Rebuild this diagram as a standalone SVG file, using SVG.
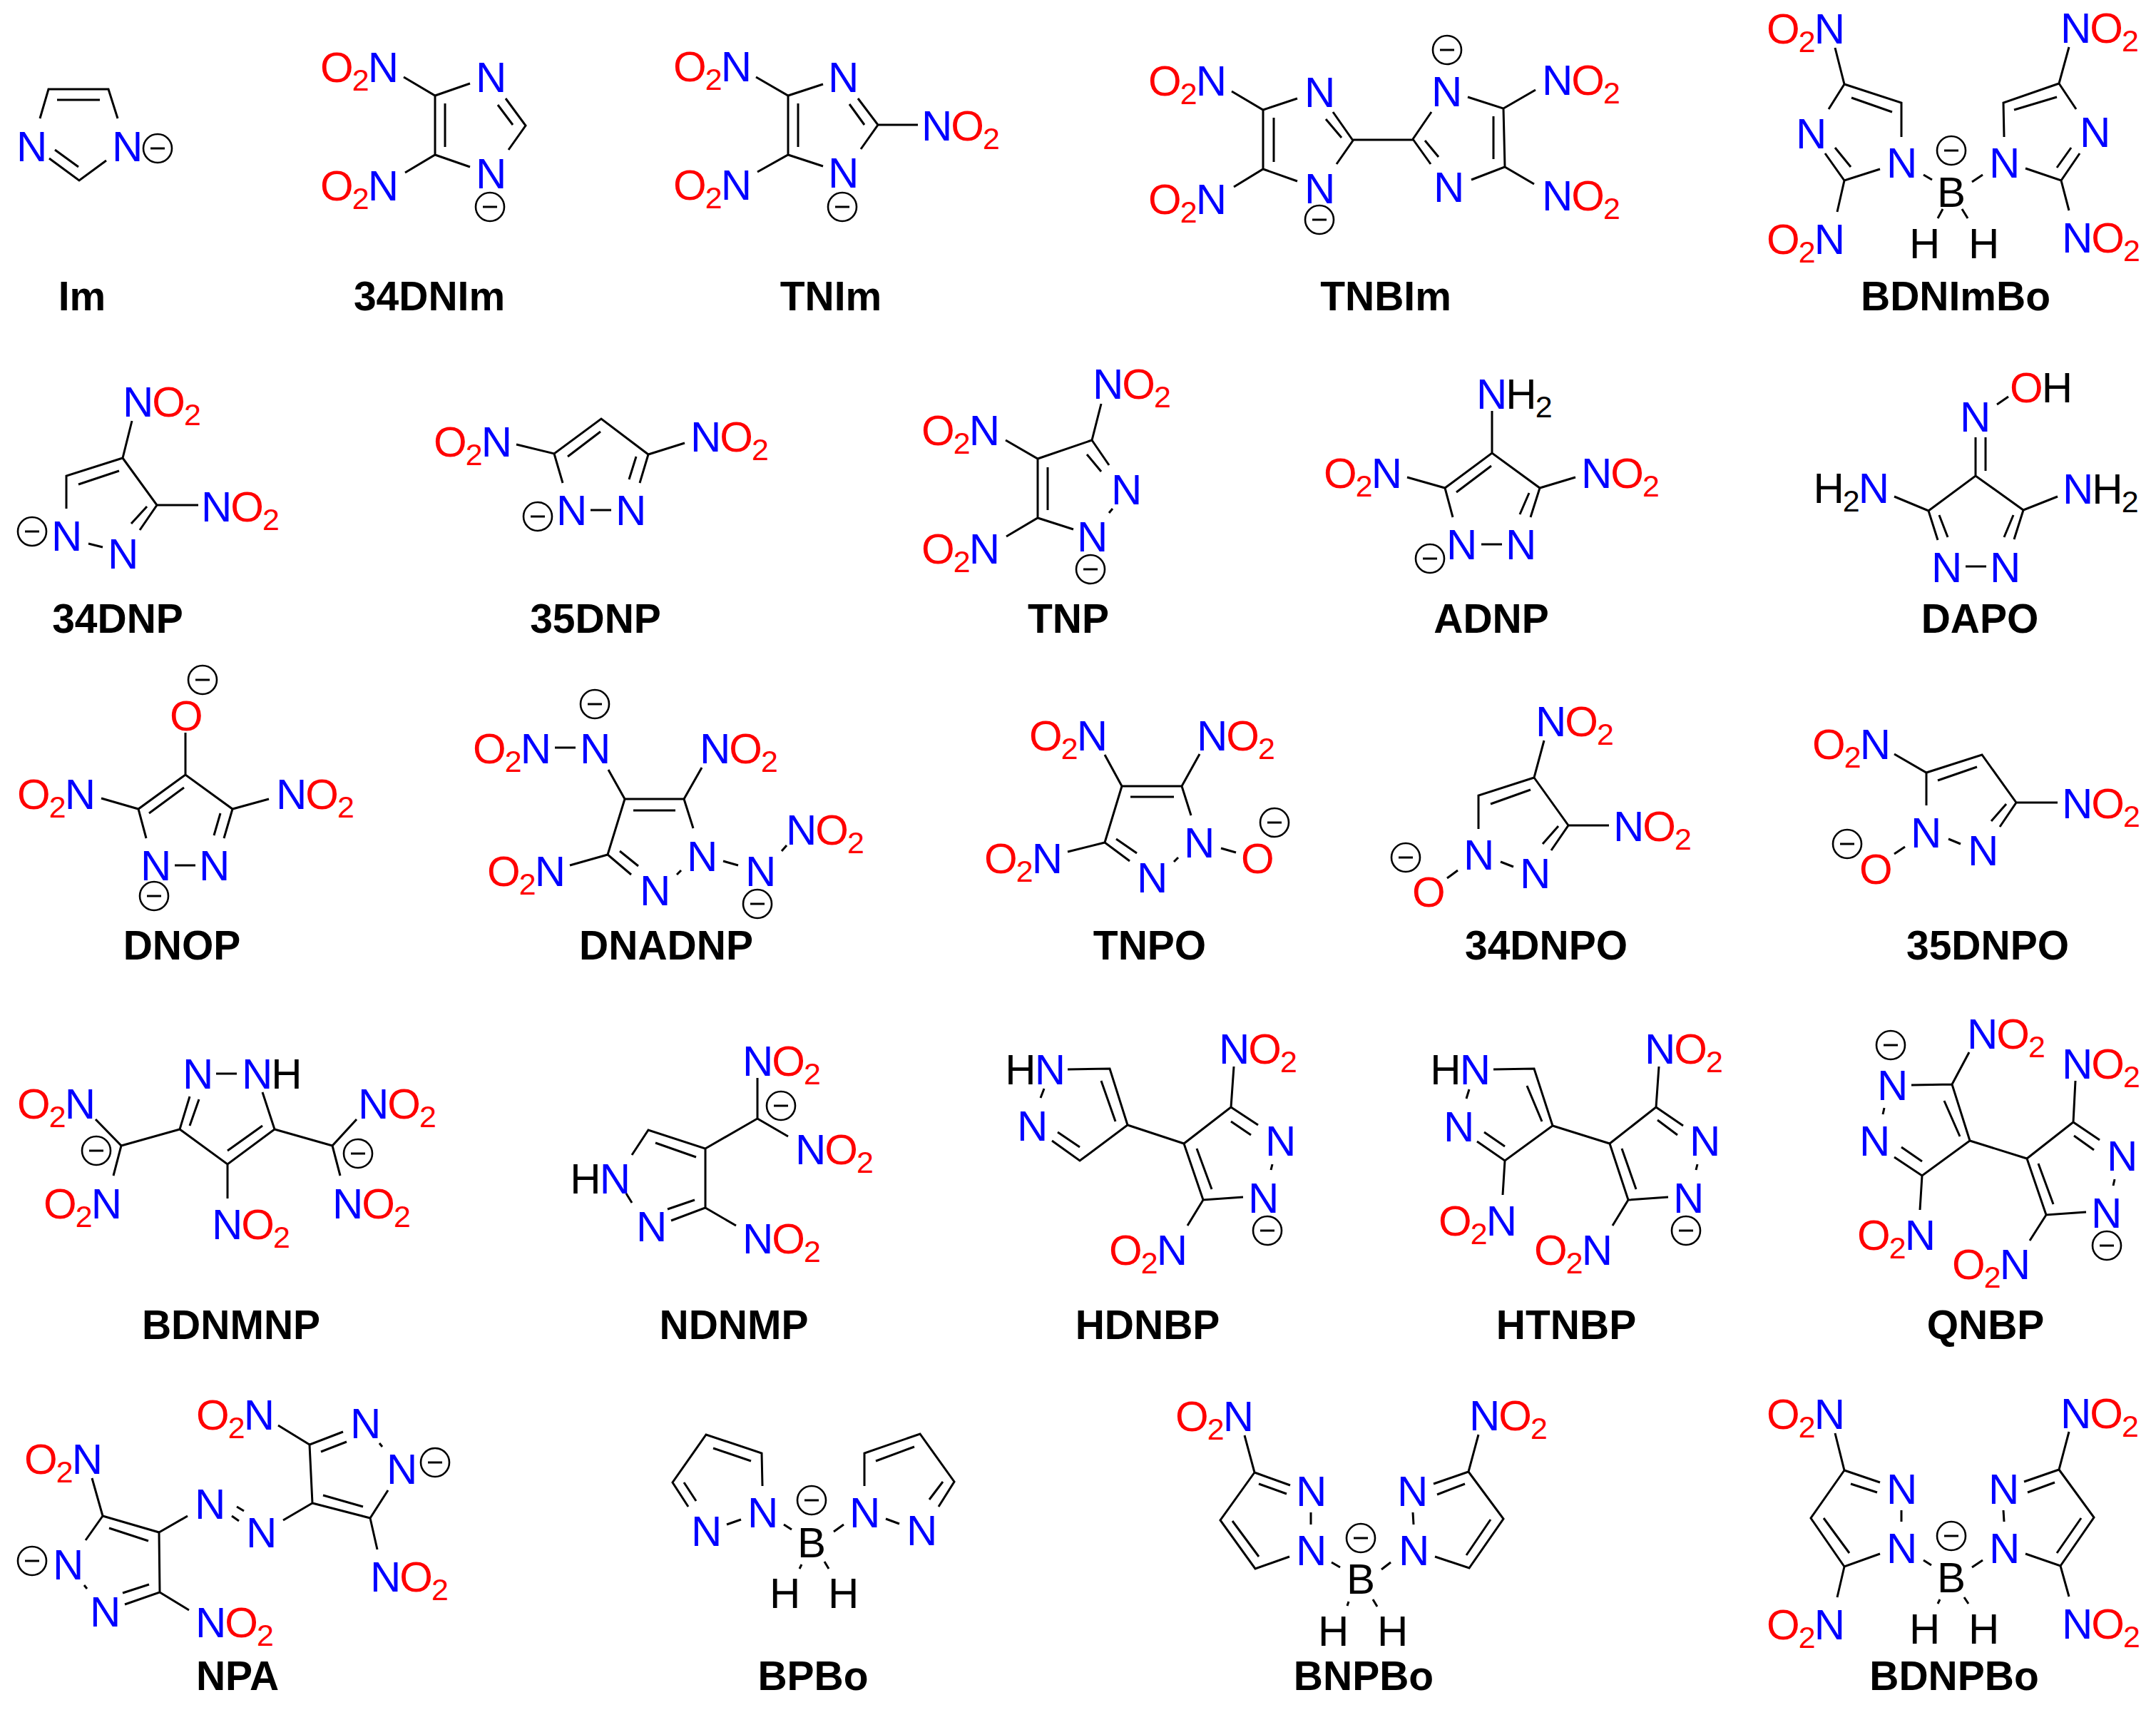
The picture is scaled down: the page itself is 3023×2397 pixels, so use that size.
<svg xmlns="http://www.w3.org/2000/svg" width="3023" height="2397" viewBox="0 0 3023 2397">
<style>
text{font-family:"Liberation Sans",Arial,sans-serif}
.t{font-size:60px;fill:#000;letter-spacing:-2px}
.e{text-anchor:end}
.b{fill:#0000ff}
.r{fill:#ff0000}
.s{font-size:43px}
.l{font-size:57px;font-weight:bold;text-anchor:middle;fill:#000}
.g{fill:none;stroke:#000;stroke-width:3;stroke-linecap:butt;stroke-linejoin:miter}
</style>
<defs>
<g id="m"><circle r="20" fill="none" stroke="#000" stroke-width="2.6"/><path d="M-10 0H10" stroke="#000" stroke-width="3"/></g>
</defs>
<rect width="3023" height="2397" fill="#fff"/>

<g id="Im">
<path class="g" d="M56 166L68 125H152L165 166M80 140H140M69 222L111 253L149 225M77 210L110 234"/>
<text class="t b" x="23" y="226">N</text><text class="t b" x="157" y="226">N</text>
<use href="#m" x="221" y="208"/>
<text class="l" x="115" y="435">Im</text>
</g>

<g id="DNIm34">
<path class="g" d="M566 108L610 134L659 117M568 242L610 217L659 234M610 134V217M624 145V206M709 138L737 176L713 210M698 147L719 175"/>
<text class="t e" x="557" y="115"><tspan class="r">O</tspan><tspan class="r s" dy="12">2</tspan><tspan class="b" dy="-12">N</tspan></text>
<text class="t e" x="557" y="281"><tspan class="r">O</tspan><tspan class="r s" dy="12">2</tspan><tspan class="b" dy="-12">N</tspan></text>
<text class="t b" x="667" y="129">N</text><text class="t b" x="667" y="264">N</text>
<use href="#m" x="687" y="290"/>
<text class="l" x="602" y="435">34DNIm</text>
</g>

<g id="TNIm">
<path class="g" d="M1060 108L1105 134L1154 118M1062 241L1105 217L1154 233M1105 134V217M1119 145V206M1203 138L1231 175L1207 209M1191 146L1212 175M1231 175H1287"/>
<text class="t e" x="1052" y="114"><tspan class="r">O</tspan><tspan class="r s" dy="12">2</tspan><tspan class="b" dy="-12">N</tspan></text>
<text class="t e" x="1052" y="280"><tspan class="r">O</tspan><tspan class="r s" dy="12">2</tspan><tspan class="b" dy="-12">N</tspan></text>
<text class="t b" x="1161" y="129">N</text><text class="t b" x="1161" y="263">N</text>
<text class="t" x="1292" y="197"><tspan class="b">N</tspan><tspan class="r">O</tspan><tspan class="r s" dy="12">2</tspan></text>
<use href="#m" x="1181" y="290"/>
<text class="l" x="1165" y="435">TNIm</text>
</g>

<g id="TNBIm">
<path class="g" d="M1727 128L1771 154L1819 138M1730 262L1771 237L1819 254M1771 154V237M1786 165V227M1869 157L1897 197L1874 230M1859 167L1881 193M1897 196H1981M1981 195L2007 157M1981 195L2006 230M1998 197L2017 220M2058 136L2108 152L2110 234L2063 252M2094 163V223M2108 152L2153 126M2110 234L2151 258"/>
<text class="t e" x="1718" y="134"><tspan class="r">O</tspan><tspan class="r s" dy="12">2</tspan><tspan class="b" dy="-12">N</tspan></text>
<text class="t e" x="1718" y="300"><tspan class="r">O</tspan><tspan class="r s" dy="12">2</tspan><tspan class="b" dy="-12">N</tspan></text>
<text class="t b" x="1829" y="150">N</text><text class="t b" x="1829" y="285">N</text>
<text class="t b" x="2007" y="149">N</text><text class="t b" x="2010" y="283">N</text>
<text class="t" x="2162" y="133"><tspan class="b">N</tspan><tspan class="r">O</tspan><tspan class="r s" dy="12">2</tspan></text>
<text class="t" x="2162" y="295"><tspan class="b">N</tspan><tspan class="r">O</tspan><tspan class="r s" dy="12">2</tspan></text>
<use href="#m" x="2029" y="70"/><use href="#m" x="1850" y="308"/>
<text class="l" x="1943" y="435">TNBIm</text>
</g>

<g id="BDNImBo">
<path class="g" d="M2573 67L2586 118L2666 144V192M2586 118L2564 153M2596 137L2653 157M2559 215L2586 253L2636 237M2573 207L2595 234M2586 253L2576 297M2697 245L2709 252M2780 245L2765 255M2724 293L2717 306M2751 293L2759 306M2901 66L2887 117L2809 144L2810 192M2887 117L2911 153M2824 154L2884 136M2916 215L2890 253L2840 236M2904 207L2884 235M2890 253L2901 295"/>
<text class="t e" x="2585" y="61"><tspan class="r">O</tspan><tspan class="r s" dy="12">2</tspan><tspan class="b" dy="-12">N</tspan></text>
<text class="t e" x="2585" y="356"><tspan class="r">O</tspan><tspan class="r s" dy="12">2</tspan><tspan class="b" dy="-12">N</tspan></text>
<text class="t" x="2889" y="60"><tspan class="b">N</tspan><tspan class="r">O</tspan><tspan class="r s" dy="12">2</tspan></text>
<text class="t" x="2891" y="354"><tspan class="b">N</tspan><tspan class="r">O</tspan><tspan class="r s" dy="12">2</tspan></text>
<text class="t b" x="2518" y="208">N</text><text class="t b" x="2645" y="249">N</text>
<text class="t b" x="2789" y="249">N</text><text class="t b" x="2916" y="206">N</text>
<text class="t" x="2716" y="290">B</text>
<text class="t" x="2677" y="362">H</text><text class="t" x="2760" y="362">H</text>
<use href="#m" x="2736" y="211"/>
<text class="l" x="2742" y="435">BDNImBo</text>
</g>

<g id="DNP34">
<path class="g" d="M185 590L172 642L93 667V713M110 679L167 660M172 642L220 708L196 743M206 710L184 734M220 708H278M124 762L144 767"/>
<text class="t" x="172" y="584"><tspan class="b">N</tspan><tspan class="r">O</tspan><tspan class="r s" dy="12">2</tspan></text>
<text class="t" x="282" y="731"><tspan class="b">N</tspan><tspan class="r">O</tspan><tspan class="r s" dy="12">2</tspan></text>
<text class="t b" x="72" y="772">N</text><text class="t b" x="151" y="797">N</text>
<use href="#m" x="45" y="745"/>
<text class="l" x="165" y="887">34DNP</text>
</g>

<g id="DNP35">
<path class="g" d="M724 623L777 636L843 587L909 637L960 621M777 636L789 677M796 640L842 605M909 637L897 677M892 640L882 672M828 715H857"/>
<text class="t e" x="716" y="640"><tspan class="r">O</tspan><tspan class="r s" dy="12">2</tspan><tspan class="b" dy="-12">N</tspan></text>
<text class="t" x="968" y="633"><tspan class="b">N</tspan><tspan class="r">O</tspan><tspan class="r s" dy="12">2</tspan></text>
<text class="t b" x="780" y="736">N</text><text class="t b" x="863" y="736">N</text>
<use href="#m" x="754" y="724"/>
<text class="l" x="835" y="887">35DNP</text>
</g>

<g id="TNP">
<path class="g" d="M1410 617L1455 643L1531 617L1544 566M1411 752L1455 726L1505 742M1455 643V726M1469 655V715M1531 617L1555 652M1524 637L1544 661M1555 719L1560 713"/>
<text class="t e" x="1400" y="624"><tspan class="r">O</tspan><tspan class="r s" dy="12">2</tspan><tspan class="b" dy="-12">N</tspan></text>
<text class="t e" x="1400" y="790"><tspan class="r">O</tspan><tspan class="r s" dy="12">2</tspan><tspan class="b" dy="-12">N</tspan></text>
<text class="t" x="1532" y="559"><tspan class="b">N</tspan><tspan class="r">O</tspan><tspan class="r s" dy="12">2</tspan></text>
<text class="t b" x="1558" y="707">N</text><text class="t b" x="1510" y="773">N</text>
<use href="#m" x="1529" y="798"/>
<text class="l" x="1498" y="887">TNP</text>
</g>

<g id="ADNP">
<path class="g" d="M1973 669L2026 684L2092 635L2159 684L2209 669M2092 635V576M2042 690L2091 653M2026 684L2037 725M2159 684L2146 725M2144 691L2131 721M2077 763H2106"/>
<text class="t" x="2070" y="573"><tspan class="b">N</tspan>H<tspan class="s" dy="12">2</tspan></text>
<text class="t e" x="1964" y="684"><tspan class="r">O</tspan><tspan class="r s" dy="12">2</tspan><tspan class="b" dy="-12">N</tspan></text>
<text class="t" x="2217" y="684"><tspan class="b">N</tspan><tspan class="r">O</tspan><tspan class="r s" dy="12">2</tspan></text>
<text class="t b" x="2028" y="784">N</text><text class="t b" x="2111" y="784">N</text>
<use href="#m" x="2005" y="783"/>
<text class="l" x="2091" y="887">ADNP</text>
</g>

<g id="DAPO">
<path class="g" d="M2656 696L2704 716L2770 667L2837 715L2885 696M2770 667V613M2784 613V660M2800 567L2816 556M2704 716L2717 757M2719 722L2731 753M2837 715L2824 756M2823 722L2810 753M2756 794H2785"/>
<text class="t b" x="2748" y="605">N</text>
<text class="t" x="2818" y="564"><tspan class="r">O</tspan>H</text>
<text class="t e" x="2647" y="705">H<tspan class="s" dy="12">2</tspan><tspan class="b" dy="-12">N</tspan></text>
<text class="t" x="2892" y="706"><tspan class="b">N</tspan>H<tspan class="s" dy="12">2</tspan></text>
<text class="t b" x="2708" y="816">N</text><text class="t b" x="2790" y="816">N</text>
<text class="l" x="2776" y="887">DAPO</text>
</g>

<g id="DNOP">
<path class="g" d="M142 1119L194 1134L260 1086L326 1134L377 1120M260 1086V1027M258 1104L209 1140M194 1134L205 1175M326 1134L314 1175M309 1140L300 1171M245 1213H274"/>
<text class="t r" x="238" y="1024">O</text>
<text class="t e" x="132" y="1134"><tspan class="r">O</tspan><tspan class="r s" dy="12">2</tspan><tspan class="b" dy="-12">N</tspan></text>
<text class="t" x="387" y="1134"><tspan class="b">N</tspan><tspan class="r">O</tspan><tspan class="r s" dy="12">2</tspan></text>
<text class="t b" x="197" y="1234">N</text><text class="t b" x="279" y="1234">N</text>
<use href="#m" x="284" y="953"/><use href="#m" x="216" y="1256"/>
<text class="l" x="255" y="1345">DNOP</text>
</g>

<g id="DNADNP">
<path class="g" d="M853 1079L876 1120H959L984 1076M888 1136H947M876 1120L852 1198L885 1226M959 1120L972 1161M869 1193L895 1214M799 1213L852 1198M778 1048H807M949 1226L955 1220M1014 1207L1035 1213M1096 1193L1103 1185"/>
<text class="t e" x="771" y="1070"><tspan class="r">O</tspan><tspan class="r s" dy="12">2</tspan><tspan class="b" dy="-12">N</tspan></text>
<text class="t b" x="813" y="1070">N</text>
<text class="t" x="981" y="1070"><tspan class="b">N</tspan><tspan class="r">O</tspan><tspan class="r s" dy="12">2</tspan></text>
<text class="t e" x="791" y="1242"><tspan class="r">O</tspan><tspan class="r s" dy="12">2</tspan><tspan class="b" dy="-12">N</tspan></text>
<text class="t b" x="897" y="1269">N</text><text class="t b" x="963" y="1221">N</text><text class="t b" x="1045" y="1242">N</text>
<text class="t" x="1102" y="1184"><tspan class="b">N</tspan><tspan class="r">O</tspan><tspan class="r s" dy="12">2</tspan></text>
<use href="#m" x="834" y="987"/><use href="#m" x="1062" y="1267"/>
<text class="l" x="934" y="1345">DNADNP</text>
</g>

<g id="TNPO">
<path class="g" d="M1549 1058L1573 1102H1657L1682 1057M1585 1117H1646M1573 1102L1549 1181L1584 1207M1657 1102L1670 1143M1565 1176L1594 1196M1497 1194L1549 1181M1646 1208L1652 1202M1712 1189L1733 1195"/>
<text class="t e" x="1551" y="1052"><tspan class="r">O</tspan><tspan class="r s" dy="12">2</tspan><tspan class="b" dy="-12">N</tspan></text>
<text class="t" x="1678" y="1052"><tspan class="b">N</tspan><tspan class="r">O</tspan><tspan class="r s" dy="12">2</tspan></text>
<text class="t e" x="1488" y="1224"><tspan class="r">O</tspan><tspan class="r s" dy="12">2</tspan><tspan class="b" dy="-12">N</tspan></text>
<text class="t b" x="1594" y="1251">N</text><text class="t b" x="1660" y="1202">N</text>
<text class="t r" x="1740" y="1224">O</text>
<use href="#m" x="1787" y="1153"/>
<text class="l" x="1612" y="1345">TNPO</text>
</g>

<g id="DNPO34">
<path class="g" d="M2165 1038L2151 1090L2073 1115V1162M2090 1127L2146 1107M2151 1090L2199 1157L2175 1192M2185 1158L2163 1183M2199 1157H2256M2104 1208L2122 1215M2029 1231L2044 1220"/>
<text class="t" x="2153" y="1032"><tspan class="b">N</tspan><tspan class="r">O</tspan><tspan class="r s" dy="12">2</tspan></text>
<text class="t" x="2262" y="1179"><tspan class="b">N</tspan><tspan class="r">O</tspan><tspan class="r s" dy="12">2</tspan></text>
<text class="t b" x="2052" y="1219">N</text><text class="t b" x="2131" y="1245">N</text>
<text class="t r" x="1980" y="1271">O</text>
<use href="#m" x="1971" y="1202"/>
<text class="l" x="2168" y="1345">34DNPO</text>
</g>

<g id="DNPO35">
<path class="g" d="M2656 1057L2701 1083L2779 1058L2827 1125L2804 1159M2701 1083V1129M2717 1094L2772 1075M2813 1127L2792 1151M2827 1125H2885M2732 1176L2749 1183M2656 1197L2671 1187"/>
<text class="t e" x="2649" y="1064"><tspan class="r">O</tspan><tspan class="r s" dy="12">2</tspan><tspan class="b" dy="-12">N</tspan></text>
<text class="t" x="2891" y="1147"><tspan class="b">N</tspan><tspan class="r">O</tspan><tspan class="r s" dy="12">2</tspan></text>
<text class="t b" x="2679" y="1188">N</text><text class="t b" x="2759" y="1213">N</text>
<text class="t r" x="2607" y="1239">O</text>
<use href="#m" x="2590" y="1183"/>
<text class="l" x="2787" y="1345">35DNPO</text>
</g>

<g id="BDNMNP">
<path class="g" d="M303 1505H332M266 1537L252 1583L319 1632L385 1583L368 1531M279 1541L266 1578M368 1578L319 1613M134 1569L170 1606L159 1648M170 1606L252 1583M385 1583L466 1606L500 1569M466 1606L477 1648M319 1632V1680"/>
<text class="t b" x="256" y="1526">N</text>
<text class="t" x="339" y="1526"><tspan class="b">N</tspan>H</text>
<text class="t e" x="132" y="1568"><tspan class="r">O</tspan><tspan class="r s" dy="12">2</tspan><tspan class="b" dy="-12">N</tspan></text>
<text class="t e" x="169" y="1708"><tspan class="r">O</tspan><tspan class="r s" dy="12">2</tspan><tspan class="b" dy="-12">N</tspan></text>
<text class="t" x="502" y="1568"><tspan class="b">N</tspan><tspan class="r">O</tspan><tspan class="r s" dy="12">2</tspan></text>
<text class="t" x="466" y="1708"><tspan class="b">N</tspan><tspan class="r">O</tspan><tspan class="r s" dy="12">2</tspan></text>
<text class="t" x="297" y="1737"><tspan class="b">N</tspan><tspan class="r">O</tspan><tspan class="r s" dy="12">2</tspan></text>
<use href="#m" x="135" y="1613"/><use href="#m" x="502" y="1617"/>
<text class="l" x="324" y="1877">BDNMNP</text>
</g>

<g id="NDNMP">
<path class="g" d="M886 1619L909 1584L989 1610V1693L941 1711M919 1602L976 1622M974 1682L936 1695M878 1673L886 1686M989 1610L1062 1568V1511M1062 1568L1105 1593M989 1693L1032 1718"/>
<text class="t e" x="882" y="1673">H<tspan class="b">N</tspan></text>
<text class="t b" x="892" y="1740">N</text>
<text class="t" x="1041" y="1508"><tspan class="b">N</tspan><tspan class="r">O</tspan><tspan class="r s" dy="12">2</tspan></text>
<text class="t" x="1115" y="1632"><tspan class="b">N</tspan><tspan class="r">O</tspan><tspan class="r s" dy="12">2</tspan></text>
<text class="t" x="1041" y="1757"><tspan class="b">N</tspan><tspan class="r">O</tspan><tspan class="r s" dy="12">2</tspan></text>
<use href="#m" x="1095" y="1550"/>
<text class="l" x="1029" y="1877">NDNMP</text>
</g>

<g id="HDNBP">
<path class="g" d="M1464 1526L1459 1539M1497 1499L1556 1498L1581 1577L1514 1627L1475 1599M1544 1515L1564 1572M1514 1608L1483 1587M1581 1577L1660 1603L1726 1552L1730 1495M1726 1552L1764 1577M1726 1572L1754 1591M1784 1632L1782 1640M1660 1603L1687 1682L1743 1678M1678 1610L1699 1667M1687 1682L1665 1718"/>
<text class="t e" x="1492" y="1520">H<tspan class="b">N</tspan></text>
<text class="t b" x="1426" y="1599">N</text>
<text class="t" x="1709" y="1491"><tspan class="b">N</tspan><tspan class="r">O</tspan><tspan class="r s" dy="12">2</tspan></text>
<text class="t b" x="1774" y="1620">N</text><text class="t b" x="1750" y="1700">N</text>
<text class="t e" x="1663" y="1773"><tspan class="r">O</tspan><tspan class="r s" dy="12">2</tspan><tspan class="b" dy="-12">N</tspan></text>
<use href="#m" x="1777" y="1725"/>
<text class="l" x="1609" y="1877">HDNBP</text>
</g>

<g id="HTNBP">
<path class="g" d="M2060 1527L2056 1540M2094 1499L2151 1498L2177 1578L2110 1627L2071 1600M2141 1522L2162 1572M2110 1607L2081 1587M2110 1627L2107 1675M2177 1578L2257 1603L2322 1552L2326 1495M2322 1552L2360 1578M2324 1570L2352 1591M2380 1632L2378 1640M2257 1603L2283 1682L2339 1678M2274 1610L2294 1667M2283 1682L2261 1718"/>
<text class="t e" x="2088" y="1520">H<tspan class="b">N</tspan></text>
<text class="t b" x="2024" y="1600">N</text>
<text class="t e" x="2125" y="1732"><tspan class="r">O</tspan><tspan class="r s" dy="12">2</tspan><tspan class="b" dy="-12">N</tspan></text>
<text class="t" x="2306" y="1491"><tspan class="b">N</tspan><tspan class="r">O</tspan><tspan class="r s" dy="12">2</tspan></text>
<text class="t b" x="2369" y="1620">N</text><text class="t b" x="2346" y="1700">N</text>
<text class="t e" x="2259" y="1773"><tspan class="r">O</tspan><tspan class="r s" dy="12">2</tspan><tspan class="b" dy="-12">N</tspan></text>
<use href="#m" x="2364" y="1725"/>
<text class="l" x="2196" y="1877">HTNBP</text>
</g>

<g id="QNBP">
<path class="g" d="M2680 1521L2737 1520L2761 1475M2737 1520L2762 1599L2695 1648L2656 1622M2726 1543L2748 1593M2642 1553L2640 1562M2695 1628L2666 1608M2695 1648L2692 1696M2762 1599L2842 1624L2907 1573L2910 1515M2907 1573L2944 1598M2908 1592L2936 1612M2965 1653L2963 1662M2842 1624L2869 1703L2925 1699M2858 1631L2879 1688M2869 1703L2846 1739"/>
<text class="t b" x="2632" y="1542">N</text><text class="t b" x="2607" y="1620">N</text>
<text class="t" x="2758" y="1470"><tspan class="b">N</tspan><tspan class="r">O</tspan><tspan class="r s" dy="12">2</tspan></text>
<text class="t" x="2891" y="1512"><tspan class="b">N</tspan><tspan class="r">O</tspan><tspan class="r s" dy="12">2</tspan></text>
<text class="t e" x="2712" y="1752"><tspan class="r">O</tspan><tspan class="r s" dy="12">2</tspan><tspan class="b" dy="-12">N</tspan></text>
<text class="t e" x="2845" y="1793"><tspan class="r">O</tspan><tspan class="r s" dy="12">2</tspan><tspan class="b" dy="-12">N</tspan></text>
<text class="t b" x="2954" y="1641">N</text><text class="t b" x="2932" y="1721">N</text>
<use href="#m" x="2651" y="1465"/><use href="#m" x="2954" y="1746"/>
<text class="l" x="2784" y="1877">QNBP</text>
</g>

<g id="NPA">
<path class="g" d="M129 2072L144 2125L223 2148L224 2232L175 2249M144 2125L120 2159M153 2142L208 2160M209 2221L172 2233M118 2222L122 2227M224 2232L265 2257M223 2148L263 2125M332 2112L342 2118M325 2125L335 2132M397 2131L438 2107L434 2025L481 2007M438 2107L519 2128L544 2089M453 2096L509 2112M450 2035L486 2021M532 2023L536 2028M390 1998L434 2025M519 2128L529 2172"/>
<text class="t e" x="142" y="2066"><tspan class="r">O</tspan><tspan class="r s" dy="12">2</tspan><tspan class="b" dy="-12">N</tspan></text>
<text class="t e" x="383" y="2004"><tspan class="r">O</tspan><tspan class="r s" dy="12">2</tspan><tspan class="b" dy="-12">N</tspan></text>
<text class="t b" x="74" y="2214">N</text><text class="t b" x="126" y="2280">N</text>
<text class="t b" x="273" y="2129">N</text><text class="t b" x="345" y="2169">N</text>
<text class="t b" x="542" y="2080">N</text><text class="t b" x="491" y="2016">N</text>
<text class="t" x="274" y="2295"><tspan class="b">N</tspan><tspan class="r">O</tspan><tspan class="r s" dy="12">2</tspan></text>
<text class="t" x="519" y="2231"><tspan class="b">N</tspan><tspan class="r">O</tspan><tspan class="r s" dy="12">2</tspan></text>
<use href="#m" x="45" y="2188"/><use href="#m" x="610" y="2050"/>
<text class="l" x="333" y="2369">NPA</text>
</g>

<g id="BPBo">
<path class="g" d="M965 2112L943 2078L990 2011L1068 2037L1069 2083M1000 2030L1053 2048M959 2078L976 2104M1019 2137L1039 2130M1099 2137L1110 2144M1169 2147L1183 2137M1124 2193L1121 2199M1156 2189L1162 2199M1242 2129L1261 2136M1212 2083V2037L1290 2010L1338 2077L1316 2112M1228 2048L1282 2028M1322 2077L1303 2102"/>
<text class="t b" x="969" y="2167">N</text><text class="t b" x="1048" y="2141">N</text>
<text class="t b" x="1191" y="2141">N</text><text class="t b" x="1271" y="2166">N</text>
<text class="t" x="1118" y="2183">B</text>
<text class="t" x="1079" y="2254">H</text><text class="t" x="1161" y="2254">H</text>
<use href="#m" x="1138" y="2103"/>
<text class="l" x="1140" y="2369">BPBo</text>
</g>

<g id="BNPBo">
<path class="g" d="M1745 2012L1759 2064L1809 2082M1765 2080L1804 2094M1759 2064L1711 2131L1760 2199L1808 2182M1728 2132L1765 2182M1838 2120V2137M2073 2011L2059 2063L2010 2080M2054 2080L2015 2095M2059 2063L2108 2129L2060 2198L2012 2182M2090 2130L2056 2180M1981 2120L1982 2137M1867 2190L1879 2197M1950 2190L1937 2200M1891 2245L1889 2251M1925 2242L1931 2252"/>
<text class="t e" x="1756" y="2006"><tspan class="r">O</tspan><tspan class="r s" dy="12">2</tspan><tspan class="b" dy="-12">N</tspan></text>
<text class="t" x="2060" y="2005"><tspan class="b">N</tspan><tspan class="r">O</tspan><tspan class="r s" dy="12">2</tspan></text>
<text class="t b" x="1817" y="2111">N</text><text class="t b" x="1817" y="2194">N</text>
<text class="t b" x="1959" y="2111">N</text><text class="t b" x="1961" y="2194">N</text>
<text class="t" x="1888" y="2234">B</text>
<text class="t" x="1848" y="2307">H</text><text class="t" x="1931" y="2307">H</text>
<use href="#m" x="1908" y="2156"/>
<text class="l" x="1912" y="2369">BNPBo</text>
</g>

<g id="BDNPBo">
<path class="g" d="M2573 2009L2586 2061L2636 2078M2595 2080L2632 2092M2586 2061L2539 2128L2586 2196L2636 2178M2557 2128L2593 2177M2586 2196L2576 2239M2666 2117V2133M2901 2007L2887 2060L2838 2077M2881 2078L2843 2092M2887 2060L2936 2127L2889 2195L2840 2178M2918 2128L2884 2177M2889 2195L2901 2238M2809 2117L2810 2133M2697 2187L2708 2194M2780 2187L2765 2197M2720 2242L2717 2248M2754 2239L2760 2248"/>
<text class="t e" x="2585" y="2003"><tspan class="r">O</tspan><tspan class="r s" dy="12">2</tspan><tspan class="b" dy="-12">N</tspan></text>
<text class="t e" x="2585" y="2298"><tspan class="r">O</tspan><tspan class="r s" dy="12">2</tspan><tspan class="b" dy="-12">N</tspan></text>
<text class="t" x="2889" y="2002"><tspan class="b">N</tspan><tspan class="r">O</tspan><tspan class="r s" dy="12">2</tspan></text>
<text class="t" x="2891" y="2297"><tspan class="b">N</tspan><tspan class="r">O</tspan><tspan class="r s" dy="12">2</tspan></text>
<text class="t b" x="2645" y="2108">N</text><text class="t b" x="2645" y="2191">N</text>
<text class="t b" x="2788" y="2108">N</text><text class="t b" x="2789" y="2191">N</text>
<text class="t" x="2716" y="2232">B</text>
<text class="t" x="2677" y="2304">H</text><text class="t" x="2760" y="2304">H</text>
<use href="#m" x="2736" y="2153"/>
<text class="l" x="2740" y="2369">BDNPBo</text>
</g>
</svg>
